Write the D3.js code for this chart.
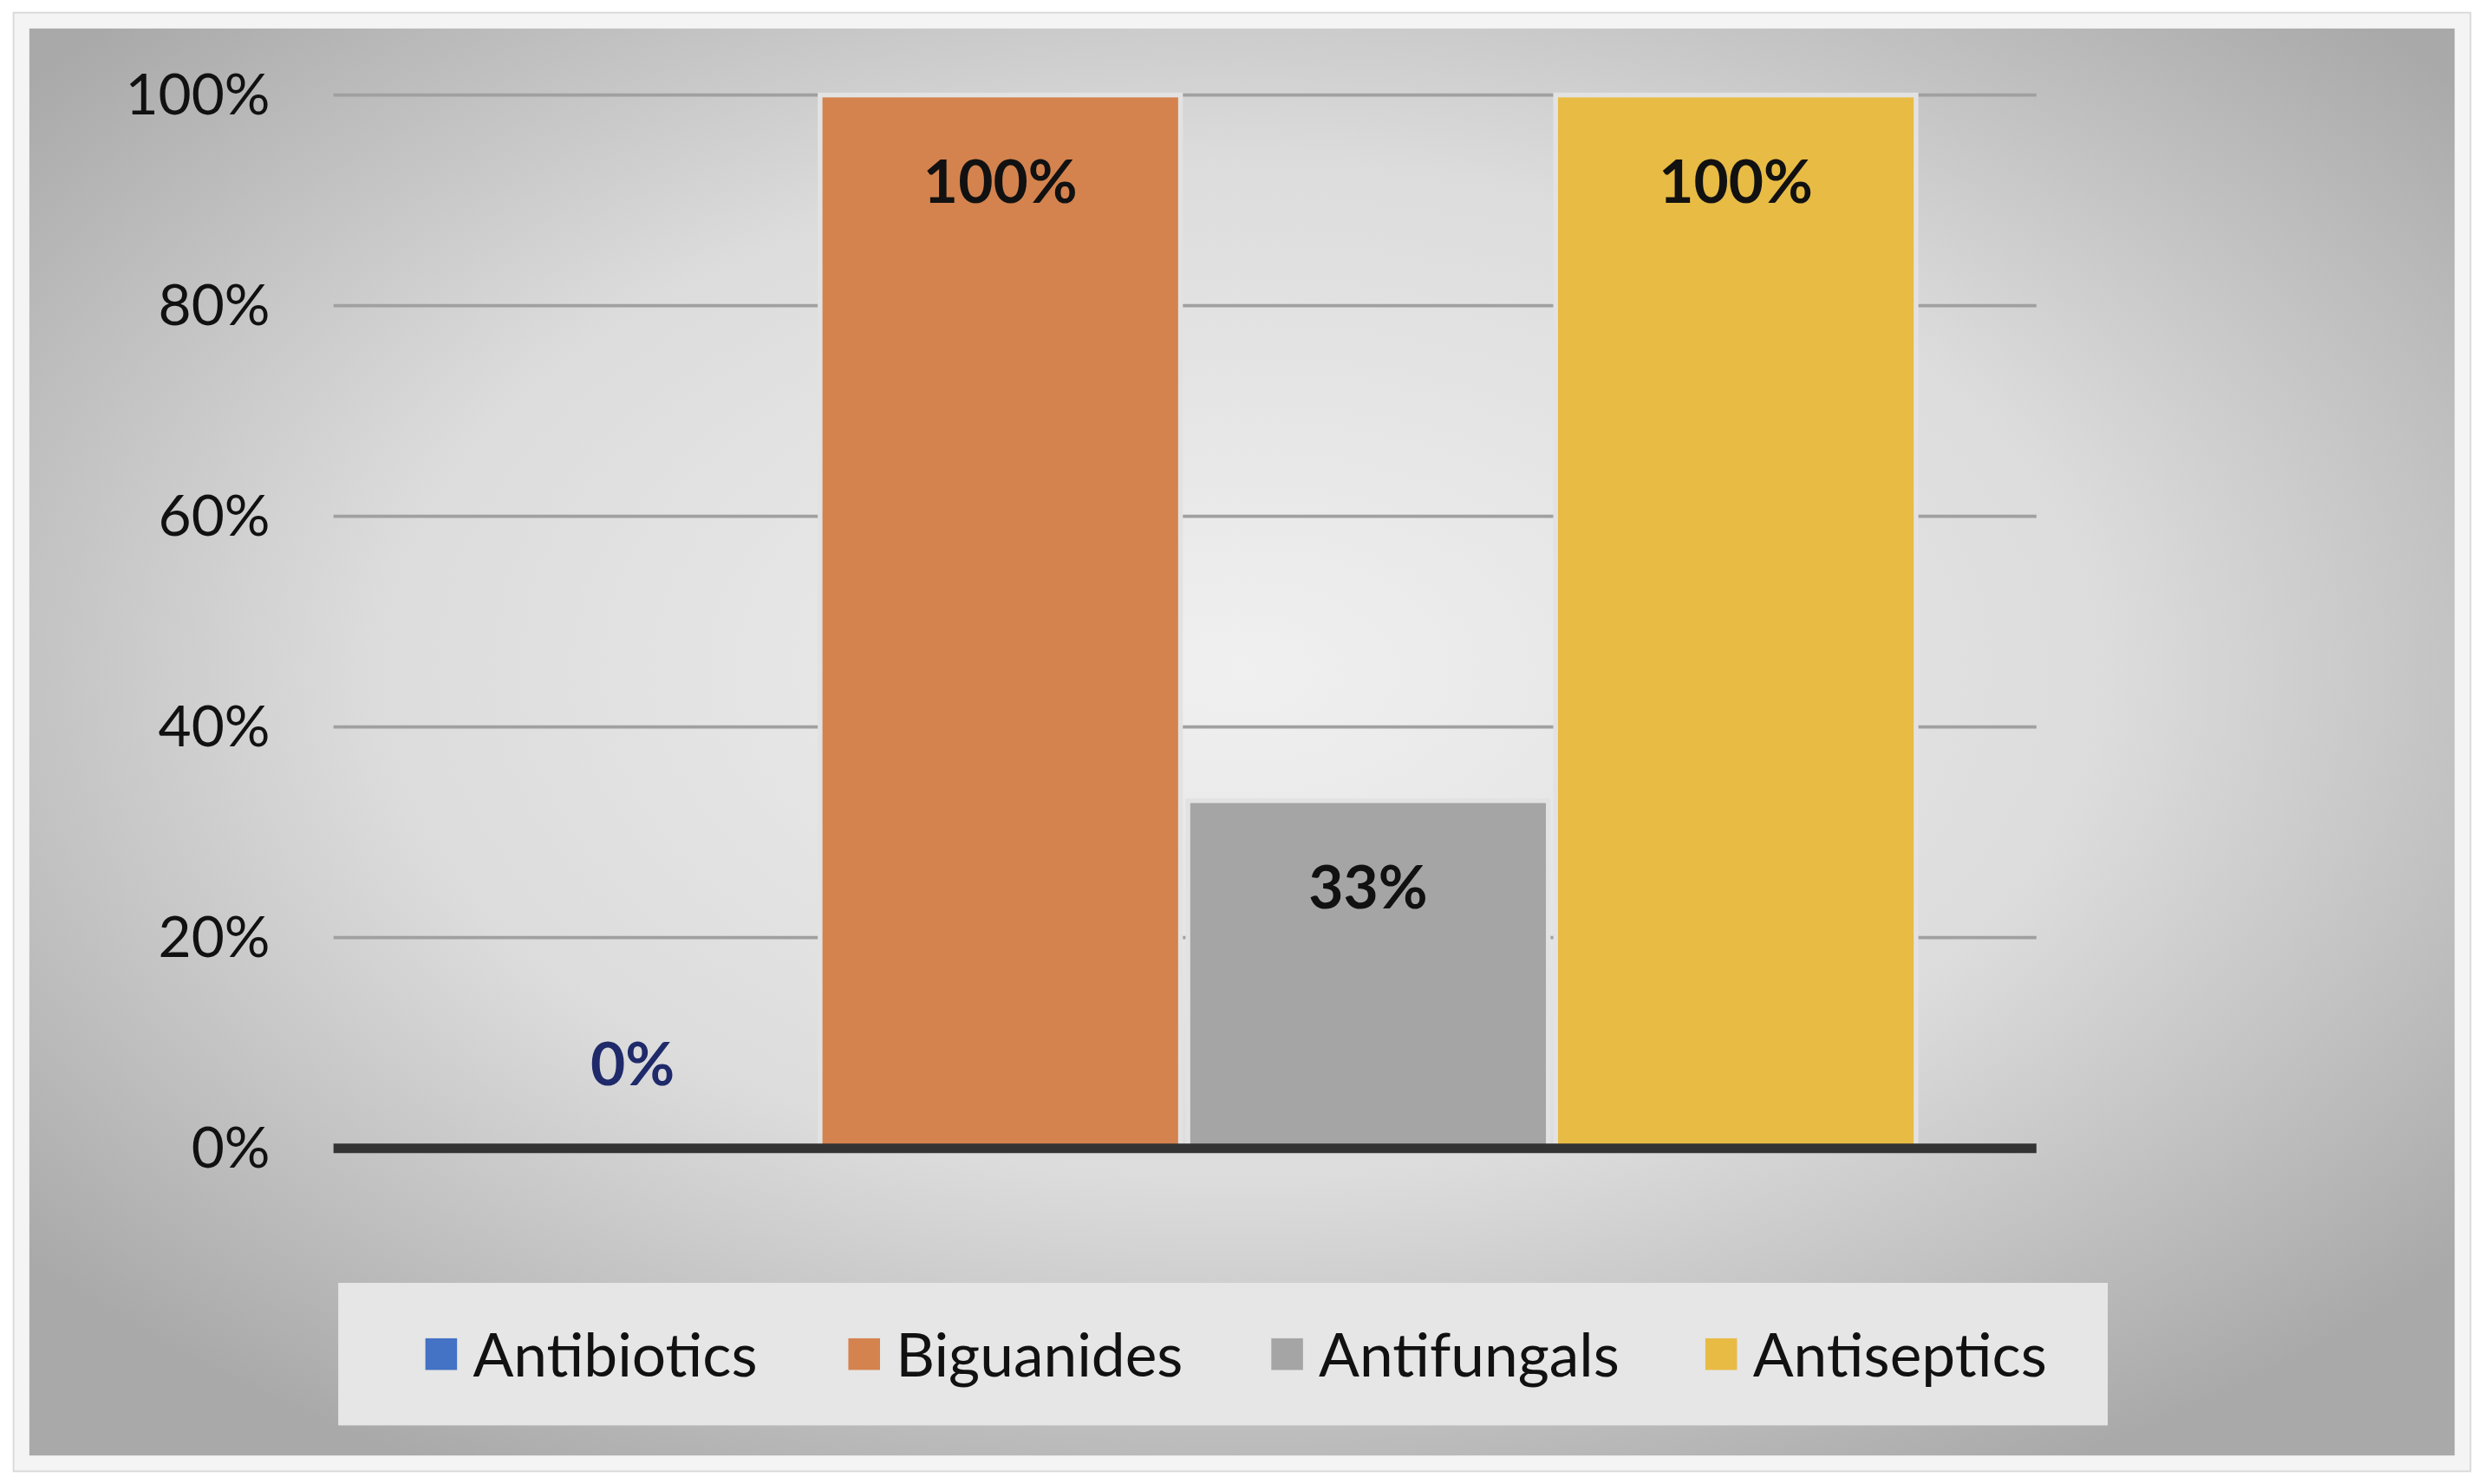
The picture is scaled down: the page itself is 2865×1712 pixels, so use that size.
<!DOCTYPE html>
<html><head><meta charset="utf-8">
<script src="https://cdn.jsdelivr.net/npm/d3@7"></script>
<style>body{margin:0;background:#fff}</style>
</head><body><div id="chart"></div>
<script>
// data
const series = ["Antibiotics", "Biguanides", "Antifungals", "Antiseptics"];
const values = [0, 1, 0.33, 1];
const colors = ["#4472c4", "#d4834f", "#a5a5a5", "#e8bb45"];
const yTicks = [0, 0.2, 0.4, 0.6, 0.8, 1];

// work in reference-sized units, scale up via viewBox
const W = 1567, H = 937;
const svg = d3.select("#chart").append("svg")
  .attr("width", 2865).attr("height", 1712)
  .attr("viewBox", `0 0 ${W} ${H}`)
  .style("font-family", "Lato, 'Open Sans', sans-serif");

const defs = svg.append("defs");
const grad = defs.append("radialGradient").attr("id", "bg")
  .attr("cx", "50%").attr("cy", "45%").attr("r", "65%");
grad.append("stop").attr("offset", "0%").attr("stop-color", "#f0f0f0");
grad.append("stop").attr("offset", "55%").attr("stop-color", "#dcdcdc");
grad.append("stop").attr("offset", "100%").attr("stop-color", "#a9a9a9");

svg.append("rect").attr("x", 8).attr("y", 8).attr("width", W - 16).attr("height", H - 16)
  .attr("fill", "#f4f4f4").attr("stroke", "#d8d8d8");
svg.append("rect").attr("x", 18).attr("y", 18).attr("width", W - 36).attr("height", H - 36)
  .attr("fill", "url(#bg)");

const plot = { left: 210, right: 1285, top: 60, bottom: 725 };
const y = d3.scaleLinear().domain([0, 1]).range([plot.bottom, plot.top]);
const x = d3.scaleBand().domain(series).range([285, 1209]).paddingInner(0.02);

// gridlines
svg.append("g").selectAll("line").data(yTicks.slice(1)).join("line")
  .attr("x1", plot.left).attr("x2", plot.right)
  .attr("y1", d => y(d)).attr("y2", d => y(d))
  .attr("stroke", "#a0a0a0").attr("stroke-width", 2);

// y axis labels
const yAxis = svg.append("g").attr("transform", `translate(${plot.left - 40},0)`)
  .call(d3.axisLeft(y).tickValues(yTicks).tickFormat(d3.format(".0%")).tickSize(0).tickPadding(0));
yAxis.select(".domain").remove();
yAxis.selectAll("text").attr("font-size", 36).attr("fill", "#111").attr("font-family", "Lato, sans-serif");

// bars
svg.append("g").selectAll("rect").data(series).join("rect")
  .attr("x", d => x(d)).attr("width", x.bandwidth())
  .attr("y", (d, i) => y(values[i])).attr("height", (d, i) => y(0) - y(values[i]))
  .attr("fill", (d, i) => colors[i]).attr("stroke", "#e2e2e2").attr("stroke-width", 3);

// zero line
svg.append("line").attr("x1", plot.left).attr("x2", plot.right)
  .attr("y1", y(0)).attr("y2", y(0)).attr("stroke", "#333").attr("stroke-width", 6);

// data labels
svg.append("g").selectAll("text").data(series).join("text")
  .attr("x", d => x(d) + x.bandwidth() / 2 + 0)
  .attr("y", (d, i) => values[i] === 0 ? 685 : y(values[i]) + 68)
  .attr("text-anchor", "middle")
  .attr("font-size", 38).attr("font-weight", "bold")
  .attr("fill", (d, i) => values[i] === 0 ? "#1f2a6b" : "#111")
  .text((d, i) => d3.format(".0%")(values[i]));

// legend
svg.append("rect").attr("x", 213).attr("y", 810).attr("width", 1117).attr("height", 90)
  .attr("fill", "#e6e6e6");
const legX = [268, 535, 802, 1076];
const leg = svg.append("g").selectAll("g").data(series).join("g")
  .attr("transform", (d, i) => `translate(${legX[i]},855)`);
leg.append("rect").attr("x", 0).attr("y", -10).attr("width", 20).attr("height", 20)
  .attr("fill", (d, i) => colors[i]);
leg.append("text").attr("x", 30).attr("y", 14).attr("font-size", 38).attr("fill", "#111")
  .text(d => d);
</script></body></html>
